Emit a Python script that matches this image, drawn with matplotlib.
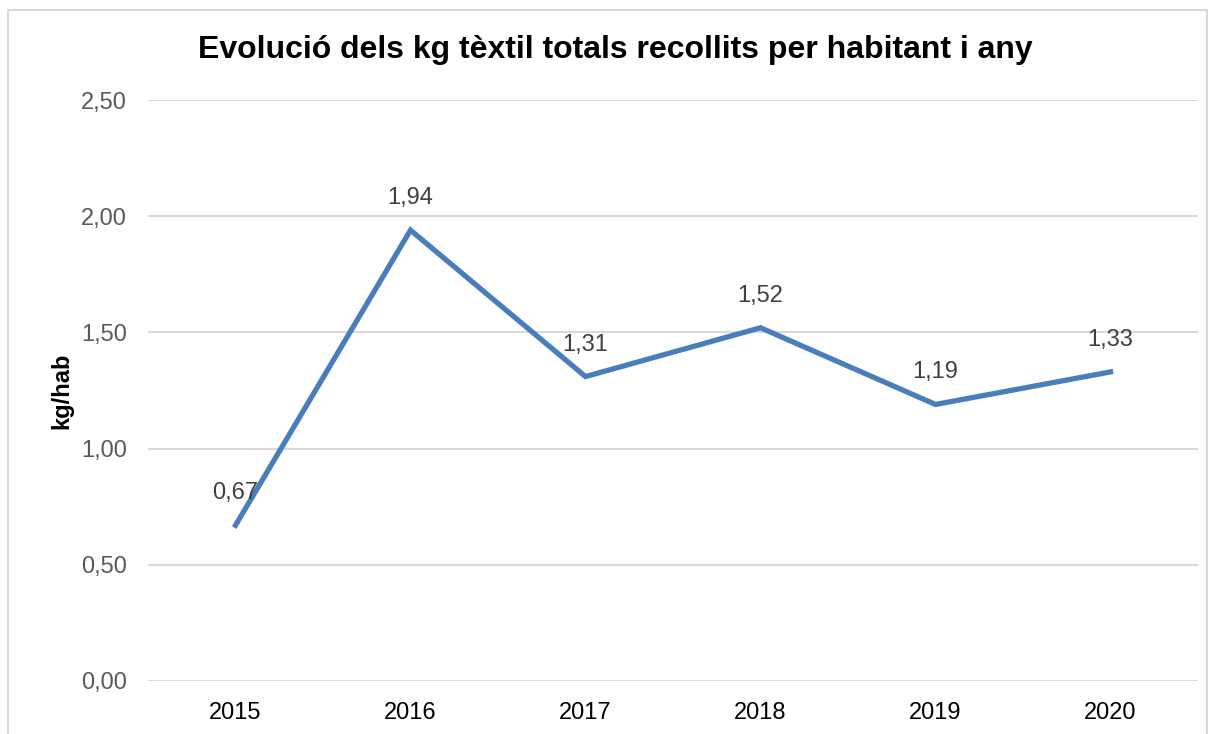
import matplotlib.pyplot as plt
from matplotlib.patches import Rectangle

years = ['2015', '2016', '2017', '2018', '2019', '2020']
kg_hab = [0.67, 1.94, 1.31, 1.52, 1.19, 1.33]
y_ticks = [0, 0.5, 1.0, 1.5, 2.0, 2.5]

plt.rcParams['font.family'] = ['Liberation Sans', 'DejaVu Sans']

fig = plt.figure(figsize=(12.1, 7.34), dpi=100)
ax = fig.add_axes([148/1210, 1-681/734, 1050/1210, 581/734])

x = list(range(len(years)))
ax.plot(x, kg_hab, color='#4a7ebb', lw=3.8, solid_joinstyle='miter', zorder=3)

for xi, v in zip(x, kg_hab):
    ax.annotate(f'{v:.2f}'.replace('.', ','), (xi, v), xytext=(0, 32),
                textcoords='offset pixels', ha='center', va='center',
                fontsize=17, color='#404040')

ax.set_xlim(-0.5, len(years) - 0.5)
ax.set_ylim(0, 2.5)
ax.set_xticks(x)
ax.set_xticklabels(years)
ax.set_yticks(y_ticks)
ax.set_yticklabels([f'{t:.2f}'.replace('.', ',') for t in y_ticks])
ax.tick_params(axis='both', length=0, labelsize=17, pad=15)
ax.tick_params(axis='y', labelcolor='#595959')
ax.tick_params(axis='x', labelcolor='black')
ax.grid(axis='y', color='#d9d9d9', lw=1.5)
ax.set_axisbelow(True)
for s in ax.spines.values():
    s.set_visible(False)

ax.set_ylabel('kg/hab', fontsize=17, fontweight='bold', labelpad=6)

fig.text(615/1210, 1-50/734, 'Evolució dels kg tèxtil totals recollits per habitant i any',
         ha='center', va='center', fontsize=23, fontweight='bold')

border = Rectangle((8/1210, -0.05), 1199/1210, 1.05-10/734, transform=fig.transFigure,
                   fill=False, edgecolor='#d9d9d9', lw=1.5)
fig.patches.append(border)

fig.savefig('out.png', dpi=100)
